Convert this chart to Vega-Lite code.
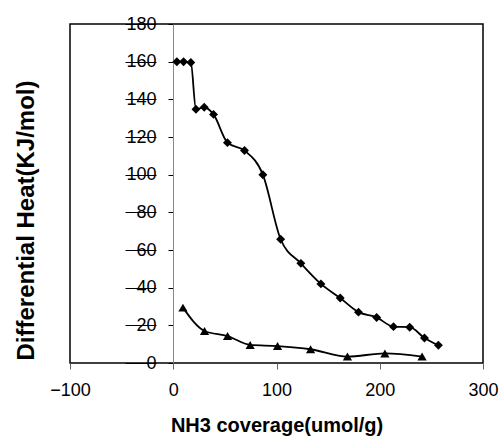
{
  "$schema": "https://vega.github.io/schema/vega-lite/v6.json",
  "width": 413,
  "height": 339,
  "autosize": {"type": "none"},
  "padding": {"left": 70, "top": 24, "right": 19, "bottom": 73},
  "background": "white",
  "config": {
    "view": {"stroke": "black", "strokeWidth": 1.5},
    "font": "Liberation Sans"
  },
  "data": {
    "values": [
      {"x": 3.5, "y": 160, "series": "A"},
      {"x": 10, "y": 160, "series": "A"},
      {"x": 17, "y": 159.6, "series": "A"},
      {"x": 22, "y": 134.7, "series": "A"},
      {"x": 30, "y": 135.8, "series": "A"},
      {"x": 39, "y": 132, "series": "A"},
      {"x": 52.5, "y": 117, "series": "A"},
      {"x": 69, "y": 112.8, "series": "A"},
      {"x": 86.8, "y": 100, "series": "A"},
      {"x": 104, "y": 65.7, "series": "A"},
      {"x": 123.6, "y": 52.9, "series": "A"},
      {"x": 143, "y": 42, "series": "A"},
      {"x": 161.7, "y": 34.5, "series": "A"},
      {"x": 179.4, "y": 27, "series": "A"},
      {"x": 197, "y": 24.2, "series": "A"},
      {"x": 213.3, "y": 19.3, "series": "A"},
      {"x": 229, "y": 19, "series": "A"},
      {"x": 243.3, "y": 13.3, "series": "A"},
      {"x": 256.8, "y": 9.4, "series": "A"},
      {"x": 9.4, "y": 29.4, "series": "B"},
      {"x": 30.3, "y": 17, "series": "B"},
      {"x": 52.6, "y": 14.3, "series": "B"},
      {"x": 74.5, "y": 9.6, "series": "B"},
      {"x": 101, "y": 9, "series": "B"},
      {"x": 133, "y": 7.3, "series": "B"},
      {"x": 168.7, "y": 3.4, "series": "B"},
      {"x": 205, "y": 5.1, "series": "B"},
      {"x": 241, "y": 3.4, "series": "B"}
    ]
  },
  "encoding": {
    "x": {
      "field": "x",
      "type": "quantitative",
      "scale": {"domain": [-100, 300], "nice": false},
      "axis": {
        "title": "NH3 coverage(umol/g)",
        "values": [-100, 0, 100, 200, 300],
        "grid": false,
        "domain": false,
        "tickSize": 6,
        "tickColor": "#666",
        "labelFontSize": 18,
        "labelColor": "black",
        "labelPadding": 12,
        "labelFlush": false,
        "titleFontSize": 20,
        "titleFontWeight": "bold",
        "titleColor": "black",
        "titleY": 68,
        "titleBaseline": "alphabetic"
      }
    },
    "y": {
      "field": "y",
      "type": "quantitative",
      "scale": {"domain": [0, 180], "nice": false},
      "axis": {
        "title": "Differential Heat(KJ/mol)",
        "values": [0, 20, 40, 60, 80, 100, 120, 140, 160, 180],
        "grid": false,
        "offset": -103,
        "domainColor": "#888",
        "tickSize": 48,
        "tickDash": [5, 12, 31, 200],
        "tickColor": "black",
        "labelPadding": -31,
        "labelFontSize": 18,
        "labelColor": "black",
        "labelFlush": false,
        "titleFontSize": 24,
        "titleFontWeight": "bold",
        "titleColor": "black",
        "titleAngle": -90,
        "titleX": -140,
        "titleY": 196,
        "titleAlign": "center",
        "titleBaseline": "alphabetic"
      }
    }
  },
  "layer": [
    {
      "mark": {"type": "line", "interpolate": "monotone", "color": "black", "strokeWidth": 1.8},
      "encoding": {"detail": {"field": "series", "type": "nominal"}}
    },
    {
      "mark": {"type": "point", "filled": true, "color": "black", "opacity": 1},
      "encoding": {
        "shape": {
          "field": "series",
          "type": "nominal",
          "scale": {"domain": ["A", "B"], "range": ["diamond", "triangle-up"]},
          "legend": null
        },
        "size": {
          "field": "series",
          "type": "nominal",
          "scale": {"domain": ["A", "B"], "range": [80, 85]},
          "legend": null
        }
      }
    }
  ]
}
